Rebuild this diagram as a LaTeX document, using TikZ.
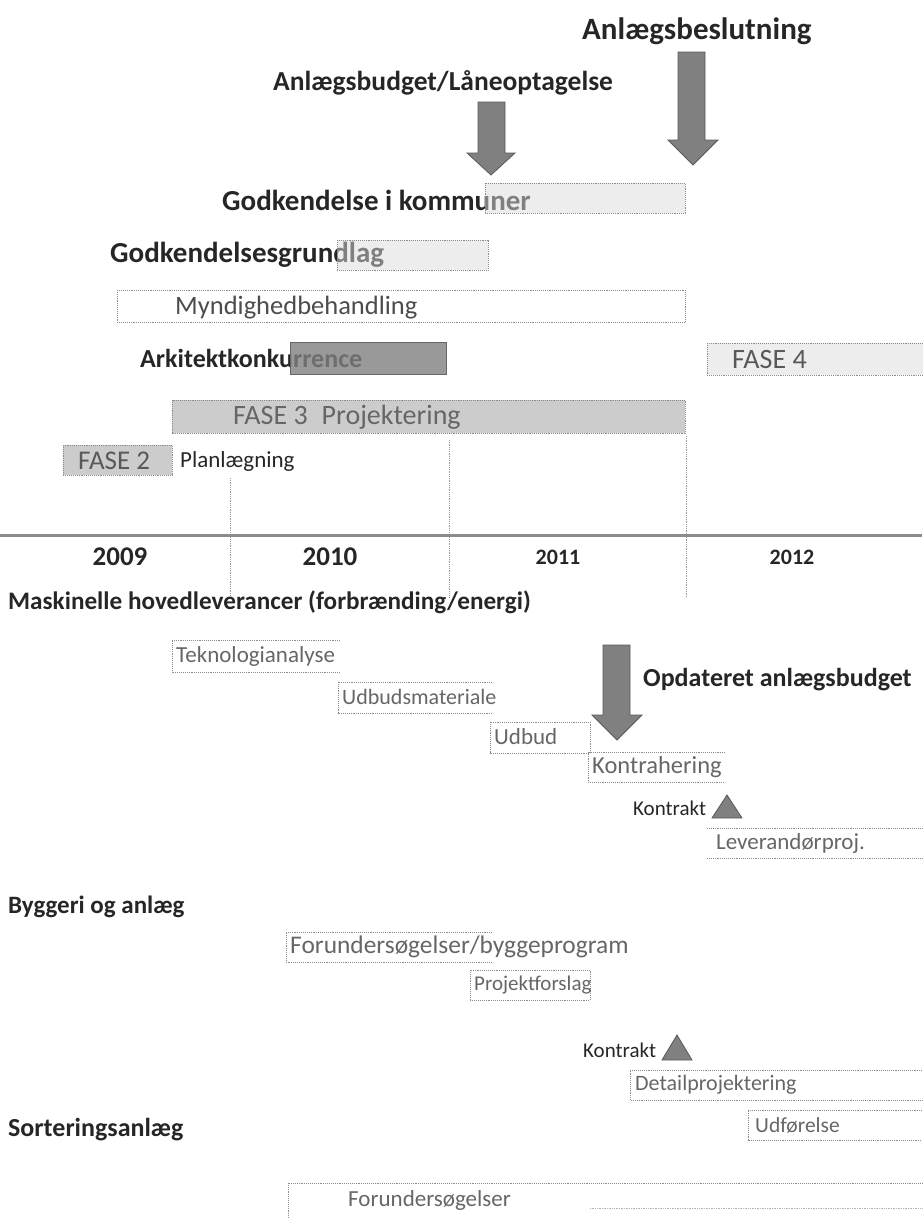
\documentclass[tikz,border=0pt]{standalone}
\usepackage{fontspec}
\setmainfont{Carlito}
\tikzset{
  lbl/.style={anchor=west,inner sep=0pt,font=\fontsize{26}{30}\selectfont\bfseries,text=black!85},
  biglbl/.style={anchor=west,inner sep=0pt,font=\fontsize{31}{36}\selectfont\bfseries,text=black!85},
  yr/.style={anchor=center,inner sep=0pt,font=\fontsize{27}{30}\selectfont\bfseries,text=black!85},
  item/.style={anchor=west,inner sep=0pt,font=\fontsize{23}{26}\selectfont,text=black!60},
  boxln/.style={draw=black!45,densely dotted,line width=0.9pt},
  lightfill/.style={fill=black!14,fill opacity=0.5},
  midfill/.style={fill=black!20},
  arrowshape/.style={fill=black!50,draw=black!65,line width=0.8pt},
  vline/.style={draw=black!40,densely dotted,line width=0.8pt}
}
\begin{document}
\begin{tikzpicture}[x=1pt,y=-1pt]
\useasboundingbox (0,0) rectangle (922,1218);

% --- top milestones
\node[biglbl] (beslut) at (582,31) {Anlægsbeslutning};
\fill[arrowshape] (678,52) -- (705,52) -- (705,140) -- (718,140) -- (693,165) -- (668,140) -- (678,140) -- cycle;
\node[lbl,font=\fontsize{27.5}{30}\selectfont\bfseries] (budget) at (273,83) {Anlægsbudget/Låneoptagelse};
\fill[arrowshape] (478,102) -- (505,102) -- (505,153) -- (515,153) -- (491,175) -- (467,153) -- (478,153) -- cycle;

% --- approval bars
\node[lbl,font=\fontsize{29}{32}\selectfont\bfseries] (godk) at (222,200) {Godkendelse i kommuner};
\path[boxln,lightfill] (485,183) rectangle (685,213);
\node[lbl,font=\fontsize{29}{32}\selectfont\bfseries] (grundlag) at (110,255) {Godkendelsesgrundlag};
\path[boxln,lightfill] (337,240) rectangle (488,270);
\path[boxln] (117,290) rectangle (685,322);
\node[item,font=\fontsize{26.5}{28}\selectfont,text=black!70] (mynd) at (175,308) {Myndighedbehandling};

\node[lbl] (arkitekt) at (140,358) {Arkitektkonkurrence};
\path[draw=black!60,fill=black!50,fill opacity=0.8] (290,342) rectangle (446,374);
\path[boxln,lightfill] (707,343) rectangle (930,375);
\node[item,font=\fontsize{28}{30}\selectfont,text=black!65] (fase4) at (732,360) {FASE 4};

\path[boxln,midfill] (172,400) rectangle (685,433);
\node[item,font=\fontsize{28}{30}\selectfont,text=black!60] (fase3) at (233,417) {FASE 3\hspace{14pt}Projektering};
\path[boxln,midfill] (63,445) rectangle (172,475);
\node[item,font=\fontsize{27}{30}\selectfont,text=black!65] (fase2) at (78,461) {FASE 2};
\node[item,text=black!85] (plan) at (180,461) {Planlægning};

% --- time axis
\draw[vline] (230,478) -- (230,597);
\draw[vline] (449,440) -- (449,597);
\draw[vline] (686,436) -- (686,597);
\draw[black!45,line width=3pt] (0,535) -- (922,535);
\node[yr] (y09) at (120,557) {2009};
\node[yr] (y10) at (330,557) {2010};
\node[yr,font=\fontsize{22}{26}\selectfont\bfseries] (y11) at (558,557) {2011};
\node[yr,font=\fontsize{22}{26}\selectfont\bfseries] (y12) at (792,557) {2012};

% --- Maskinelle
\node[lbl,font=\fontsize{25.2}{28}\selectfont\bfseries] (mask) at (8,602) {Maskinelle hovedleverancer (forbrænding/energi)};
\draw[boxln] (340,640) -- (172,640) -- (172,672) -- (340,672);
\node[item] (tekno) at (176,656) {Teknologianalyse};
\draw[boxln] (492,682) -- (338,682) -- (338,713) -- (492,713);
\node[item,font=\fontsize{22}{24}\selectfont] (udbmat) at (342,697) {Udbudsmateriale};
\draw[boxln] (490,722) rectangle (590,753);
\node[item] (udbud) at (494,737) {Udbud};
\draw[boxln] (725,752) -- (588,752) -- (588,782) -- (725,782);
\node[item,font=\fontsize{24.5}{26}\selectfont] (kontrah) at (592,767) {Kontrahering};
\fill[arrowshape] (603,645) -- (630,645) -- (630,715) -- (642,715) -- (617,740) -- (592,715) -- (603,715) -- cycle;
\node[lbl] (opdat) at (643,680) {Opdateret anlægsbudget};
\node[item,font=\fontsize{21}{24}\selectfont,text=black!85] (kontr1) at (633,808) {Kontrakt};
\fill[arrowshape] (712,818) -- (742,818) -- (727,795) -- cycle;
\draw[boxln] (707,828) -- (922,828);
\draw[boxln] (707,858) -- (922,858);
\node[item] (lev) at (716,843) {Leverandørproj.};

% --- Byggeri og anlæg
\node[lbl,font=\fontsize{25}{28}\selectfont\bfseries] (bygg) at (8,907) {Byggeri og anlæg};
\draw[boxln] (492,932) -- (286,932) -- (286,962) -- (492,962);
\node[item,font=\fontsize{25.4}{28}\selectfont] (forbygg) at (290,947) {Forundersøgelser/byggeprogram};
\draw[boxln] (470,970) rectangle (590,1000);
\node[item,font=\fontsize{21}{24}\selectfont] (projf) at (474,985) {Projektforslag};
\node[item,font=\fontsize{21}{24}\selectfont,text=black!85] (kontr2) at (583,1050) {Kontrakt};
\fill[arrowshape] (662,1060) -- (692,1060) -- (677,1035) -- cycle;
\draw[boxln] (922,1070) -- (630,1070) -- (630,1100) -- (922,1100);
\node[item,font=\fontsize{22}{24}\selectfont] (detail) at (635,1085) {Detailprojektering};
\draw[boxln] (922,1110) -- (748,1110) -- (748,1140) -- (922,1140);
\node[item,font=\fontsize{21.5}{24}\selectfont] (udf) at (755,1125) {Udførelse};

% --- Sorteringsanlæg
\node[lbl] (sort) at (8,1130) {Sorteringsanlæg};
\draw[boxln] (288,1218) -- (288,1183) -- (922,1183);
\draw[black!30,densely dotted,line width=0.7pt] (590,1208) -- (922,1208);
\node[item] (forund) at (348,1200) {Forundersøgelser};
\end{tikzpicture}
\end{document}
